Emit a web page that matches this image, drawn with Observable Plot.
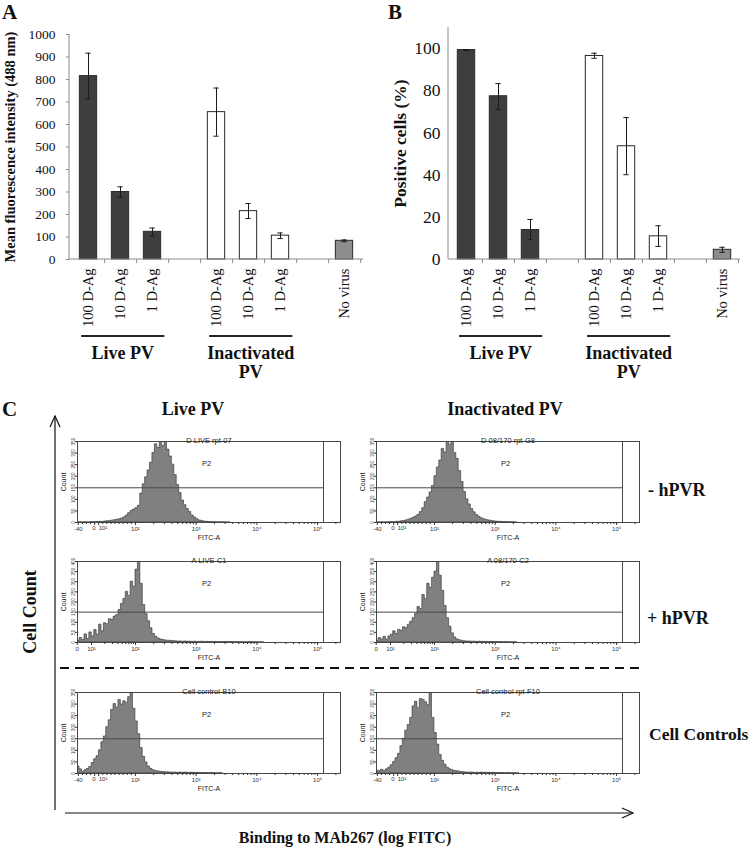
<!DOCTYPE html>
<html>
<head>
<meta charset="utf-8">
<script src="https://cdn.jsdelivr.net/npm/d3@7"></script>
<script src="https://cdn.jsdelivr.net/npm/@observablehq/plot@0.6"></script>
<style>
html,body{margin:0;padding:0;background:#fff;}
#fig{position:relative;width:750px;height:855px;overflow:hidden;background:#fff;font-family:"Liberation Serif","Times New Roman",serif;color:#111;}
.t{position:absolute;font-weight:bold;white-space:nowrap;line-height:1;}
</style>
</head>
<body>
<div id="fig"></div>
<script>
// ---------------- DATA ----------------
// Panels A and B: categories (two empty slots separate the groups)
const categories = ["Live 100", "Live 10", "Live 1", "gap1", "Inact 100", "Inact 10", "Inact 1", "gap2", "No virus"];
const tickLabels = ["100 D-Ag", "10 D-Ag", "1 D-Ag", "", "100 D-Ag", "10 D-Ag", "1 D-Ag", "", "No virus"];
const barCats = ["Live 100", "Live 10", "Live 1", "Inact 100", "Inact 10", "Inact 1", "No virus"];
const barKind = ["live", "live", "live", "inactivated", "inactivated", "inactivated", "control"];

// A: mean fluorescence intensity (488 nm)
const mfiValues = [815, 300, 123, 655, 215, 106, 83];
const mfiLow    = [715, 276, 105, 548, 182, 93, 79];
const mfiHigh   = [917, 323, 140, 762, 249, 118, 87];
const mfiTicks  = [0, 100, 200, 300, 400, 500, 600, 700, 800, 900, 1000];

// B: positive cells (%)
const posValues = [99.3, 77.4, 14, 96.5, 53.7, 11, 4.6];
const posLow    = [99.1, 71.2, 9.4, 95.4, 40.2, 6.2, 3.4];
const posHigh   = [99.5, 83.4, 19, 97.8, 67.3, 16, 5.8];
const posTicks  = [0, 20, 40, 60, 80, 100];

const groupLabels = ["Live PV", "Inactivated\nPV"];
const groupFirst  = ["Live 100", "Inact 100"];
const groupLast   = ["Live 1", "Inact 1"];

// Panel C: flow cytometry histograms (counts per display bin, FITC-A biexponential display)
const binStart = 1.04;   // display position of first bin
const binWidth = 0.04;   // display width of each bin
const countsLiveMinus = [0,1,0,1,0,1,2,1,2,3,2,4,5,6,8,10,12,14,17,22,30,40,50,56,62,72,125,165,195,225,258,300,338,322,352,330,348,315,285,250,205,162,128,95,75,58,45,30,22,14,9,6,4,3,2,2,1,1,1,0,1,0,0,1];
const countsInactMinus = [0,0,1,0,1,1,2,1,3,3,5,6,9,12,16,20,26,33,45,62,88,108,130,158,200,238,268,318,302,355,336,352,300,275,222,175,132,100,78,58,44,32,25,18,14,11,9,7,5,4,3,3,2,2,1,1,1,0,1];
const countsLivePlus = [8,22,12,40,18,50,30,62,40,88,55,95,90,115,112,128,135,160,190,215,250,230,300,275,360,420,290,185,140,105,70,42,28,20,15,12,10,9,8,7,6,5,5,4,5,4,4,3,4,3,3,4,3,3,2,3,2,3,2,2,2,3,2,2,1,2,1,2,1,1,1,2,1,1,1,1,0,1];
const countsInactPlus = [10,22,15,28,14,30,38,55,42,62,58,75,70,88,102,120,142,175,165,235,215,290,270,320,350,420,330,255,180,120,78,45,25,15,11,8,6,5,5,4,4,3,4,3,3,3,2,3,2,2,2,2,1,2,1,1,1,1,1];
const countsCtrl1 = [30,18,8,14,20,28,45,62,75,100,135,160,200,230,275,300,285,318,298,312,305,330,360,280,225,170,110,72,48,30,20,14,11,9,7,6,5,5,4,4,4,3,4,3,4,3,3,3,2,3,2,2,2,2,1,2,1,1,1,1,1];
const countsCtrl2 = [12,10,16,11,18,25,36,50,66,85,118,150,185,210,240,290,310,282,322,318,308,295,360,240,175,125,80,55,38,25,18,14,11,10,8,6,5,4,4,4,3,3,3,4,3,3,3,2,3,2,2,2,2,1,2,1,1,1,1,1];

const flowTitles = ["D LIVE rpt-07", "D 08/170 rpt-G8", "A LIVE-C1", "A 08/170-C2", "Cell control-B10", "Cell control rpt-F10"];
const flowYMax = [350, 350, 400, 400, 350, 350];
const countTicks350 = [0, 50, 100, 150, 200, 250, 300, 350];
const countTicks400 = [0, 50, 100, 150, 200, 250, 300, 350, 400];
const fitcMajorStd  = [-40, 0, 10, 100, 1000, 10000, 100000];
const fitcMajorPlus = [0, 10, 100, 1000, 10000, 100000];
const fitcMinor = [20, 30, 40, 50, 60, 70, 80, 90, 200, 300, 400, 500, 600, 700, 800, 900, 2000, 3000, 4000, 5000, 6000, 7000, 8000, 9000, 20000, 30000, 40000, 50000, 60000, 70000, 80000, 90000, 200000];
const fitcMinorNeg = [-30, -20, -10];
const fitcMin = [-42, 0.2];
const fitcMax = 238000;
const gateCount = 150;
const gateHigh = 125000;

const columnTitles = ["Live PV", "Inactivated PV"];
const rowTitles = ["- hPVR", "+ hPVR", "Cell Controls"];

// ---------------- HELPERS ----------------
const fig = document.getElementById("fig");
const NS = "http://www.w3.org/2000/svg";
function svgEl(parent, tag, attrs, text) {
  const e = document.createElementNS(NS, tag);
  for (const k in attrs) e.setAttribute(k, attrs[k]);
  if (text != null) e.textContent = text;
  parent.appendChild(e);
  return e;
}
function place(node, left, top) {
  node.style.position = "absolute";
  node.style.left = left + "px";
  node.style.top = top + "px";
  node.style.maxWidth = "none";
  fig.appendChild(node);
}
function addText(txt, x, y, size, transform, lh) {
  const el = document.createElement("div");
  el.className = "t";
  el.textContent = txt;
  el.style.left = x + "px";
  el.style.top = y + "px";
  el.style.fontSize = size + "px";
  if (lh) el.style.lineHeight = lh;
  if (transform) el.style.transform = transform;
  fig.appendChild(el);
}

const kindFill = {live: "#3e3e3e", inactivated: "#ffffff", control: "#8d8d8d"};

function barChart(cfg) {
  const {values, low, high, ticks, yMax, title, width, height, ml, mr, mt, mb, titleDx, titleSize, tickFont, tickSize, tickPadding} = cfg;
  const rows = barCats.map((c, i) => ({cat: c, v: values[i], lo: low[i], hi: high[i], kind: barKind[i]}));
  const step = (width - ml - mr) / categories.length;
  const decor = (index, scales, values_, dims) => {
    const g = document.createElementNS(NS, "g");
    const L = dims.marginLeft, R = dims.width - dims.marginRight, B = dims.height - dims.marginBottom;
    const T = scales.y(yMax);
    svgEl(g, "line", {x1: L, x2: L, y1: T, y2: B, stroke: "#8a8a8a"});
    svgEl(g, "line", {x1: L, x2: R, y1: B, y2: B, stroke: "#8a8a8a"});
    categories.forEach(c => {
      const xe = scales.x(c) + step;
      svgEl(g, "line", {x1: xe, x2: xe, y1: B, y2: B + 4, stroke: "#8a8a8a"});
    });
    groupLabels.forEach((lab, i) => {
      const x1 = scales.x(groupFirst[i]) + step * 0.28;
      const x2 = scales.x(groupLast[i]) + step * 0.87;
      svgEl(g, "line", {x1, x2, y1: B + 77, y2: B + 77, stroke: "#262626", "stroke-width": 2});
      lab.split("\n").forEach((t, j) => svgEl(g, "text", {x: (x1 + x2) / 2, y: B + 100 + j * 19, "text-anchor": "middle", "font-weight": "bold", "font-size": 18, fill: "#111"}, t));
    });
    return g;
  };
  return Plot.plot({
    width, height, marginLeft: ml, marginRight: mr, marginTop: mt, marginBottom: mb,
    style: {fontFamily: "Liberation Serif, Times New Roman, serif", fontSize: "14.5px", color: "#111", background: "transparent", overflow: "visible"},
    x: {domain: categories, padding: 0, axis: null},
    y: {domain: [0, yMax], axis: null},
    marks: [
      Plot.barY(rows, {x: "cat", y: "v", fill: d => kindFill[d.kind], stroke: "#2a2a2a", strokeWidth: 1, insetLeft: step * 0.225, insetRight: step * 0.225}),
      Plot.ruleX(rows, {x: "cat", y1: "lo", y2: "hi", stroke: "#1a1a1a", strokeWidth: 1}),
      Plot.tickY(rows, {x: "cat", y: "lo", stroke: "#1a1a1a", insetLeft: step * 0.41, insetRight: step * 0.41}),
      Plot.tickY(rows, {x: "cat", y: "hi", stroke: "#1a1a1a", insetLeft: step * 0.41, insetRight: step * 0.41}),
      Plot.axisY({ticks, tickSize, tickPadding, fontSize: tickFont, stroke: "#8a8a8a", label: null, tickFormat: d => String(d)}),
      Plot.axisX({tickSize: 0, tickPadding: 9, tickRotate: -90, fontSize: 14.5, label: null, tickFormat: d => tickLabels[categories.indexOf(d)]}),
      Plot.text([title], {text: d => d, frameAnchor: "left", dx: titleDx, rotate: -90, textAnchor: "middle", lineAnchor: "middle", fontWeight: "bold", fontSize: titleSize}),
      decor
    ]
  });
}

// biexponential-like display transforms
function biexStd(v) { return v < 100 ? 2 - (100 - v) * 0.006714 : Math.log10(v); }
function biexPlus(v) {
  if (v <= 10) return 1.04 + v * 0.0235;
  if (v < 100) return 1.275 + (Math.log10(v) - 1) * 0.725;
  return Math.log10(v);
}
const supers = {1: "\u00b9", 2: "\u00b2", 3: "\u00b3", 4: "\u2074", 5: "\u2075"};
function fitcLabel(v) {
  if (v <= 0) return String(v);
  return "10" + supers[Math.round(Math.log10(v))];
}

function flowPlot(k, counts, variant) {
  const std = variant !== "plus";
  const tf = std ? biexStd : biexPlus;
  const majors = std ? fitcMajorStd : fitcMajorPlus;
  const minors = std ? fitcMinorNeg.concat(fitcMinor) : fitcMinor;
  const xDom = [tf(fitcMin[std ? 0 : 1]), tf(fitcMax)];
  const yMax = flowYMax[k];
  const data = counts.map((c, i) => ({d: binStart + i * binWidth, c}));
  // in the standard display "0" and "10¹" sit side by side: draw them as anchored texts
  const crowded = std ? [0, 10] : [];
  const labelMap = new Map(majors.filter(v => !crowded.includes(v)).map(v => [tf(v), fitcLabel(v)]));
  const gx = tf(gateHigh);
  const marks = [
    Plot.areaY(data, {x: "d", y: "c", curve: "step-after", fill: "#808080", stroke: "#2e2e2e", strokeWidth: 0.6, clip: true}),
    Plot.ruleY([gateCount], {x1: xDom[0], x2: gx, stroke: "#474747", strokeWidth: 1}),
    Plot.ruleX([gx], {stroke: "#474747", strokeWidth: 1}),
    Plot.frame({stroke: "#474747", strokeWidth: 1}),
    Plot.text([flowTitles[k]], {text: d => d, frameAnchor: "top", dy: -4, fontSize: 7.5, fill: "#222"}),
    Plot.text(["P2"], {text: d => d, x: (xDom[0] + gx) / 2, dx: 6, frameAnchor: "top", dy: 19, fontSize: 7.5, fill: "#222"}),
    Plot.axisX({ticks: majors.map(tf), tickFormat: d => labelMap.get(d) ?? "", tickSize: 3, tickPadding: 1, fontSize: 6, label: null}),
    Plot.axisX({ticks: minors.map(tf), tickFormat: () => "", tickSize: 2, label: null}),
    Plot.axisY({ticks: yMax === 400 ? countTicks400 : countTicks350, tickSize: 2, tickPadding: 1, tickRotate: -90, fontSize: 4.5, label: null}),
    Plot.text(["Count"], {text: d => d, frameAnchor: "left", dx: -14, rotate: -90, textAnchor: "middle", fontSize: 7, fill: "#222"}),
    Plot.text(["FITC-A"], {text: d => d, frameAnchor: "bottom", dy: 17, fontSize: 7, fill: "#222"})
  ];
  if (std) {
    marks.push(Plot.text([0], {x: d => tf(d), text: d => fitcLabel(d), frameAnchor: "bottom", dy: 7, dx: 1, textAnchor: "end", fontSize: 6, fill: "#333"}));
    marks.push(Plot.text([10], {x: d => tf(d), text: d => fitcLabel(d), frameAnchor: "bottom", dy: 7, dx: 0, textAnchor: "start", fontSize: 6, fill: "#333"}));
  }
  return Plot.plot({
    width: 300, height: 125, marginLeft: 32, marginRight: 5, marginTop: 16, marginBottom: 28,
    style: {fontFamily: "Liberation Sans, Arial, sans-serif", fontSize: "6px", color: "#333", background: "transparent", overflow: "visible"},
    x: {domain: xDom, axis: null},
    y: {domain: [0, yMax], axis: null},
    marks
  });
}

// ---------------- PANELS A & B ----------------
place(barChart({values: mfiValues, low: mfiLow, high: mfiHigh, ticks: mfiTicks, yMax: 1000,
  title: "Mean fluorescence intensity (488 nm)", width: 375, height: 400, ml: 69, mr: 12, mt: 34, mb: 141,
  titleDx: -59, titleSize: 14.5, tickFont: 13.5, tickSize: 3, tickPadding: 11}), 0, 0);
place(barChart({values: posValues, low: posLow, high: posHigh, ticks: posTicks, yMax: 110,
  title: "Positive cells (%)", width: 375, height: 400, ml: 73, mr: 10, mt: 27, mb: 141,
  titleDx: -48, titleSize: 17.5, tickFont: 17.5, tickSize: 0, tickPadding: 8}), 375, 0);

addText("A", 2, 0, 21, null, "normal");
addText("B", 388, 0, 21, null, "normal");
addText("C", 2, 397, 21, null, "normal");

// ---------------- PANEL C ----------------
const colLeft = [45, 344];
const rowTop = [425, 545, 676];
const panels = [
  {counts: countsLiveMinus, variant: "std"},
  {counts: countsInactMinus, variant: "std"},
  {counts: countsLivePlus, variant: "plus"},
  {counts: countsInactPlus, variant: "plus"},
  {counts: countsCtrl1, variant: "std"},
  {counts: countsCtrl2, variant: "std"}
];
panels.forEach((p, k) => {
  place(flowPlot(k, p.counts, p.variant), colLeft[k % 2], rowTop[Math.floor(k / 2)]);
});

addText(columnTitles[0], 193, 409, 18, "translate(-50%,-50%)");
addText(columnTitles[1], 505, 409, 18, "translate(-50%,-50%)");
addText(rowTitles[0], 648, 490, 18, "translate(0,-50%)");
addText(rowTitles[1], 647, 618, 18, "translate(0,-50%)");
addText(rowTitles[2], 649, 735, 17.5, "translate(0,-50%)");
addText("Cell Count", 30, 612, 18, "translate(-50%,-50%) rotate(-90deg)");
addText("Binding to MAb267 (log FITC)", 345, 838, 16, "translate(-50%,-50%)");

// arrows and separator
const ov = document.createElementNS(NS, "svg");
ov.setAttribute("width", 750); ov.setAttribute("height", 855);
ov.style.position = "absolute"; ov.style.left = "0px"; ov.style.top = "0px"; ov.style.pointerEvents = "none";
svgEl(ov, "line", {x1: 55, x2: 55, y1: 810, y2: 416, stroke: "#111", "stroke-width": 1.2});
svgEl(ov, "polyline", {points: "50,427 55,416 60,427", fill: "none", stroke: "#111", "stroke-width": 1.2});
svgEl(ov, "line", {x1: 65, x2: 633, y1: 813, y2: 813, stroke: "#111", "stroke-width": 1.2});
svgEl(ov, "polyline", {points: "622,808 633,813 622,818", fill: "none", stroke: "#111", "stroke-width": 1.2});
svgEl(ov, "line", {x1: 60, x2: 640, y1: 668, y2: 668, stroke: "#111", "stroke-width": 2, "stroke-dasharray": "9,6"});
fig.appendChild(ov);
</script>
</body>
</html>
